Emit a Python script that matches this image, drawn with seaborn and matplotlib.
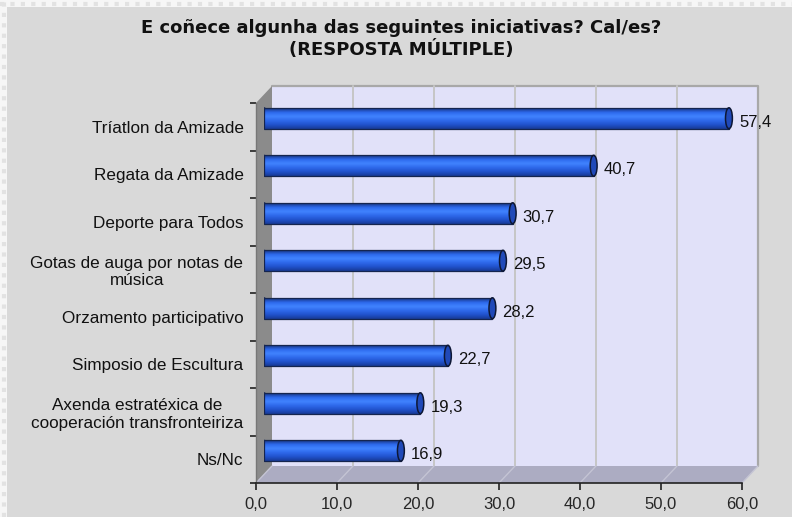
import numpy as np
import pandas as pd
import matplotlib
matplotlib.use("Agg")
import matplotlib.pyplot as plt
import matplotlib.transforms as mtransforms
from matplotlib.patches import Ellipse, Polygon, Rectangle
from matplotlib.lines import Line2D
from matplotlib.colors import LinearSegmentedColormap
from matplotlib.ticker import FuncFormatter, FixedLocator
import seaborn as sns

# data
categories = ["Tríatlon da Amizade", "Regata da Amizade", "Deporte para Todos",
              "Gotas de auga por notas de\nmúsica", "Orzamento participativo",
              "Simposio de Escultura",
              "Axenda estratéxica de\ncooperación transfronteiriza", "Ns/Nc"]
values = [57.4, 40.7, 30.7, 29.5, 28.2, 22.7, 19.3, 16.9]
x_ticks = [0, 10, 20, 30, 40, 50, 60]
title = "E coñece algunha das seguintes iniciativas? Cal/es?\n(RESPOSTA MÚLTIPLE)"

W, H = 792, 517
DX, DY = 8, 8.5   # half depth of the excel 3d box (pixels)

sns.set_theme(style="white")
plt.rcParams['font.family'] = ['Liberation Sans', 'DejaVu Sans']

fig = plt.figure(figsize=(W / 100, H / 100), dpi=100, facecolor='#f6f6f6')
fig.add_artist(Rectangle((7 / W, 0), 1, 1 - 7 / H, transform=fig.transFigure,
                         facecolor='#d9d9d9', edgecolor='none', zorder=-5))
fig.add_artist(Line2D([3.5 / W, 3.5 / W], [0, 1], transform=fig.transFigure,
                      color='#e2e2e2', lw=3, ls=(0, (1, 1.5)), zorder=-4))
fig.add_artist(Line2D([0, 1], [1 - 3.5 / H, 1 - 3.5 / H], transform=fig.transFigure,
                      color='#e2e2e2', lw=3, ls=(0, (1, 1.5)), zorder=-4))

# mid plane of the box holds the bars
ax = fig.add_axes([264 / W, (H - 474.5) / H, 486 / W, 380 / H])
df = pd.DataFrame({"iniciativa": categories, "pct": values})
sns.barplot(data=df, x="pct", y="iniciativa", orient="h", width=0.44,
            color="#2f6cf0", ax=ax, zorder=5)
ax.set_xlim(0, 60)
ax.set_ylim(len(categories) - 0.5, -0.5)
ax.axis('off')


def off(tr, dx, dy):
    return mtransforms.offset_copy(tr, fig=fig, x=dx, y=dy, units='dots')


def disp(pt, dx, dy):
    x, y = ax.transAxes.transform(pt)
    return (x + dx, y + dy)


ident = mtransforms.IdentityTransform()

# back wall
ax.add_patch(Rectangle((0, 0), 1, 1, transform=off(ax.transAxes, DX, DY),
                       facecolor='#e1e1f9', edgecolor='none', zorder=0, clip_on=False))
ax.plot([0, 1, 1], [1, 1, 0], transform=off(ax.transAxes, DX, DY), color='#a8a8a8',
        lw=1.6, zorder=0.5, clip_on=False)
for t in x_ticks[1:-1]:
    ax.plot([t, t], [0, 1], transform=off(ax.get_xaxis_transform(), DX, DY),
            color='#c6c6c6', lw=1.4, zorder=1, clip_on=False)

# floor
floor = [disp((0, 0), -DX, -DY), disp((1, 0), -DX, -DY), disp((1, 0), DX, DY), disp((0, 0), DX, DY)]
ax.add_patch(Polygon(floor, closed=True, transform=ident, facecolor='#acacc2',
                     edgecolor='none', zorder=1, clip_on=False))
xt = ax.get_xaxis_transform()
for t in x_ticks:
    a = xt.transform((t, 0))
    ax.add_line(Line2D([a[0] - DX, a[0] + DX], [a[1] - DY, a[1] + DY], transform=ident,
                       color='#c4c4d4', lw=1, zorder=1.5, clip_on=False))

# left side wall
side = [disp((0, 0), -DX, -DY), disp((0, 1), -DX, -DY), disp((0, 1), DX, DY), disp((0, 0), DX, DY)]
ax.add_patch(Polygon(side, closed=True, transform=ident, facecolor='#8b8b8b',
                     edgecolor='none', zorder=1, clip_on=False))

# cylinder look for the bars
cyl = LinearSegmentedColormap.from_list(
    'cyl', ['#17337e', '#2d69ec', '#4184ff', '#2e68ea', '#2152cc', '#173a96'])
grad = np.linspace(0, 1, 64).reshape(-1, 1)
cap_w = 0.85
for bar in list(ax.patches):
    if not isinstance(bar, Rectangle) or bar.get_zorder() != 5:
        continue
    x0, y0 = bar.get_x(), bar.get_y()
    w, h = bar.get_width(), bar.get_height()
    left_cap = Ellipse((x0, y0 + h / 2), cap_w, h, facecolor='#2f6cf0',
                       edgecolor='#15254f', lw=0.9, zorder=4)
    ax.add_patch(left_cap)
    im = ax.imshow(grad, extent=[x0, x0 + w, y0 + h, y0], aspect='auto', cmap=cyl,
                   zorder=5.1, interpolation='bicubic')
    im.set_clip_path(bar)
    im2 = ax.imshow(grad, extent=[x0 - cap_w, x0 + w, y0 + h, y0], aspect='auto', cmap=cyl,
                    zorder=4.1, interpolation='bicubic')
    im2.set_clip_path(left_cap)
    bar.set_facecolor('none')
    bar.set_edgecolor('#15254f')
    bar.set_linewidth(0.9)
    bar.set_zorder(5.2)
    ax.add_patch(Ellipse((x0 + w, y0 + h / 2), cap_w, h, facecolor='#2049b8',
                         edgecolor='#0d1735', lw=1.1, zorder=5.3))

ax.set_xlim(0, 60)
ax.set_ylim(len(categories) - 0.5, -0.5)

for i, v in enumerate(values):
    ax.annotate(f"{v:.1f}".replace('.', ','), xy=(v, i), xytext=(10, -4),
                textcoords='offset pixels', ha='left', va='center', fontsize=12,
                color='#111111', zorder=6)

# front plane: axis lines, ticks and labels
ax2 = fig.add_axes([256 / W, (H - 483) / H, 486 / W, 380 / H])
ax2.set_facecolor('none')
ax2.set_xlim(0, 60)
ax2.set_ylim(len(categories) - 0.5, -0.5)
for s in ['top', 'right']:
    ax2.spines[s].set_visible(False)
ax2.spines['bottom'].set_color('#222222')
ax2.spines['left'].set_color('#777777')
ax2.spines['bottom'].set_linewidth(1.2)
ax2.spines['left'].set_linewidth(1.0)
ax2.xaxis.set_major_locator(FixedLocator(x_ticks))
ax2.xaxis.set_major_formatter(FuncFormatter(lambda v, p: f"{v:.1f}".replace('.', ',')))
ax2.tick_params(axis='x', which='major', direction='out', length=5, width=1.2,
                color='#222222', labelsize=12, pad=5, bottom=True)
ax2.set_yticks(range(len(categories)))
ax2.set_yticklabels(categories, fontsize=12.3, multialignment='center', color='#111111')
ax2.set_yticks(np.arange(-0.5, len(categories)), minor=True)
ax2.tick_params(axis='y', which='major', length=0, pad=9, left=True)
ax2.tick_params(axis='y', which='minor', direction='out', length=4, width=1.2,
                color='#222222', left=True)
ax2.set_zorder(3)

fig.text(401 / W, 1 - 39 / H, title, ha='center', va='center', fontsize=13,
         fontweight='bold', color='#111111', family=['DejaVu Sans'],
         linespacing=1.15)

fig.savefig("out.png", dpi=100, facecolor=fig.get_facecolor())
